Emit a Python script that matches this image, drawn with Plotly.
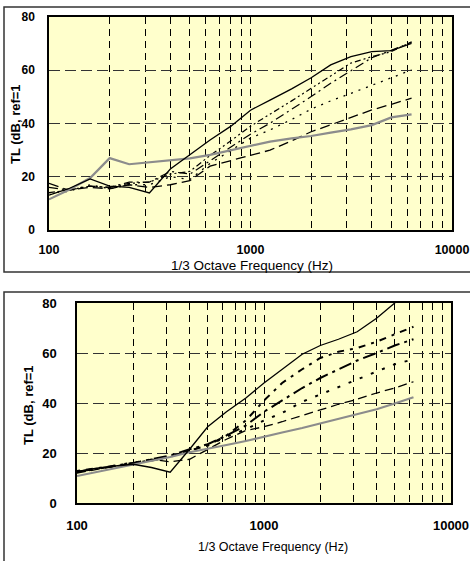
import plotly.graph_objects as go

# 1/3 octave band centre frequencies (Hz)
FREQ = [100, 125, 160, 200, 250, 315, 400, 500, 630, 800, 1000,
        1250, 1600, 2000, 2500, 3150, 4000, 5000, 6300]

# ---- top chart series (TL, dB) ----
TOP_SOLID = [13.1, 15.5, 19.2, 16.5, 16.0, 13.9, 22.9, 28.2, 33.8, 39.0, 45.0,
             48.8, 53.0, 57.2, 62.0, 65.1, 67.0, 67.4, 70.1]
TOP_GRAY = [11.5, 15.0, 19.5, 27.0, 24.7, 25.4, 26.3, 26.9, 28.2, 30.0, 31.7,
            33.2, 34.4, 35.3, 36.6, 37.8, 39.4, 42.3, 43.4]
TOP_DASHDOTDOT = [14.0, 15.0, 16.5, 16.0, 17.5, 18.0, 21.0, 22.0, 28.0, 33.5, 39.0,
                  43.4, 48.5, 53.2, 58.0, 62.7, 65.1, 67.0, 70.7]
TOP_DASHDOT = [16.0, 15.0, 16.5, 16.0, 18.0, 18.0, 22.0, 21.0, 26.0, 31.0, 36.0,
               40.1, 45.3, 50.1, 55.1, 59.8, 64.7, 67.5, 70.5]
TOP_DOT = [14.0, 14.5, 17.0, 15.5, 17.0, 17.0, 20.0, 19.0, 25.0, 30.0, 34.5,
           37.6, 41.5, 45.4, 48.5, 51.3, 54.3, 57.2, 60.1]
TOP_LONGDASH = [17.5, 15.0, 16.0, 15.5, 17.0, 16.0, 17.0, 18.5, 24.0, 26.0, 28.0,
                30.0, 33.5, 36.9, 39.5, 42.2, 45.1, 47.2, 49.5]

# ---- bottom chart series (TL, dB) ----
BOT_SOLID = [12.5, 13.8, 14.8, 15.5, 14.2, 12.3, 21.5, 30.5, 36.5, 42.0, 48.0,
             53.3, 59.5, 63.0, 65.5, 68.5, 73.9, 80.0, 87.0]
BOT_GRAY = [10.8, 12.3, 13.9, 15.3, 16.8, 18.4, 20.3, 21.6, 23.2, 24.8, 26.6,
            28.2, 30.0, 31.8, 33.6, 35.5, 37.5, 39.8, 42.3]
BOT_A = [12.8, 13.8, 15.0, 16.0, 17.0, 18.5, 21.0, 23.0, 27.0, 33.0, 41.0,
         48.0, 53.5, 58.0, 60.5, 62.0, 64.5, 67.5, 70.5]
BOT_B = [12.5, 13.5, 14.8, 16.0, 17.5, 19.0, 21.5, 23.5, 27.0, 31.0, 36.5,
         41.0, 46.0, 50.0, 53.5, 57.0, 60.0, 63.0, 65.5]
BOT_C = [12.3, 13.5, 15.0, 16.2, 17.0, 18.5, 21.0, 23.0, 26.5, 29.5, 33.0,
         36.0, 40.5, 43.5, 46.5, 49.5, 52.5, 55.5, 57.5]
BOT_D = [12.0, 13.3, 14.5, 16.0, 17.5, 16.5, 17.5, 21.5, 25.5, 29.0, 30.5,
         32.5, 35.0, 37.0, 39.5, 41.5, 44.0, 46.0, 48.5]

# axis ticks
X_TICKVALS = [m * d for d in (100, 1000) for m in range(1, 10)] + [10000]
X_TICKTEXT = [str(v) if v in (100, 1000, 10000) else "" for v in X_TICKVALS]
Y_TICKVALS = [0, 20, 40, 60, 80]
Y_TICKTEXT = ["0", "20", "40", "60", "80"]

XTITLE = "1/3 Octave Frequency (Hz)"
YTITLE = "TL (dB, ref=1"

W, H = 470, 561
FONT = "Liberation Sans, Arial, sans-serif"

fig = go.Figure()

def add(x, y, xa, ya, color, width, dash):
    fig.add_trace(go.Scatter(x=x, y=y, xaxis=xa, yaxis=ya, mode="lines",
                             line=dict(color=color, width=width, dash=dash),
                             showlegend=False, hoverinfo="skip"))

# top
add(FREQ, TOP_LONGDASH, "x", "y", "black", 1.3, "10px,5px")
add(FREQ, TOP_DOT, "x", "y", "black", 1.3, "2px,6px")
add(FREQ, TOP_DASHDOT, "x", "y", "black", 1.2, "9px,4px,2px,4px")
add(FREQ, TOP_DASHDOTDOT, "x", "y", "black", 1.2, "6px,3px,2px,3px,2px,3px")
add(FREQ, TOP_GRAY, "x", "y", "#8c8c8c", 2.2, "solid")
add(FREQ, TOP_SOLID, "x", "y", "black", 1.3, "solid")

# bottom
add(FREQ, BOT_D, "x2", "y2", "black", 1.3, "9px,5px")
add(FREQ, BOT_C, "x2", "y2", "black", 2.0, "3px,9px")
add(FREQ, BOT_B, "x2", "y2", "black", 2.0, "13px,5px,3px,5px")
add(FREQ, BOT_A, "x2", "y2", "black", 2.0, "3px,6px,7px,6px")
add(FREQ, BOT_GRAY, "x2", "y2", "#8c8c8c", 2.2, "solid")
add(FREQ, BOT_SOLID, "x2", "y2", "black", 1.3, "solid")

def xaxis(domain, anchor, size, standoff):
    return dict(domain=domain, anchor=anchor, type="log", range=[2, 4],
                automargin=False, ticklabeloverflow="allow",
                tickmode="array", tickvals=X_TICKVALS, ticktext=X_TICKTEXT,
                showgrid=True, gridcolor="black", gridwidth=1, griddash="7px,5px",
                showline=True, linecolor="black", linewidth=1.5, mirror=True,
                ticks="", ticklabelstandoff=standoff, zeroline=False,
                tickfont=dict(family=FONT, size=size, color="black", weight="bold"))

def yaxis(domain, anchor, size, standoff):
    return dict(domain=domain, anchor=anchor, range=[0, 80],
                automargin=False,
                tickmode="array", tickvals=Y_TICKVALS, ticktext=Y_TICKTEXT,
                showgrid=True, gridcolor="#333333", gridwidth=1, griddash="11px,5px",
                showline=True, linecolor="black", linewidth=1.5, mirror=True,
                ticks="", ticklabelstandoff=standoff, zeroline=False,
                tickfont=dict(family=FONT, size=size, color="black", weight="bold"))

def px(v):
    return v / W

def py(v):
    return 1 - v / H

fig.update_layout(
    width=W, height=H,
    margin=dict(l=0, r=0, t=0, b=0, autoexpand=False),
    paper_bgcolor="white", plot_bgcolor="#FFFFCC",
    xaxis=xaxis([px(49), px(452)], "y", 12.5, 7),
    yaxis=yaxis([py(230), py(17)], "x", 12, 10),
    xaxis2=xaxis([px(77), px(451)], "y2", 13, 10),
    yaxis2=yaxis([py(503), py(303)], "x2", 13, 16),
    shapes=[
        dict(type="rect", xref="paper", yref="paper", x0=px(4), x1=px(478),
             y0=py(272), y1=py(7), line=dict(color="#333333", width=1.5)),
        dict(type="rect", xref="paper", yref="paper", x0=px(4), x1=px(478),
             y0=py(570), y1=py(292), line=dict(color="#333333", width=1.5)),
    ],
    annotations=[
        dict(text=XTITLE, xref="paper", yref="paper", x=px(252), y=py(265),
             showarrow=False, xanchor="center", yanchor="middle",
             font=dict(family=FONT, size=13.5, color="black")),
        dict(text=YTITLE, xref="paper", yref="paper", x=px(15), y=py(124),
             showarrow=False, textangle=-90, xanchor="center", yanchor="middle",
             font=dict(family=FONT, size=13, color="black", weight="bold")),
        dict(text=XTITLE, xref="paper", yref="paper", x=px(273), y=py(547),
             showarrow=False, xanchor="center", yanchor="middle",
             font=dict(family=FONT, size=12.5, color="black")),
        dict(text=YTITLE, xref="paper", yref="paper", x=px(28), y=py(405),
             showarrow=False, textangle=-90, xanchor="center", yanchor="middle",
             font=dict(family=FONT, size=13, color="black", weight="bold")),
    ],
)

fig.write_html(
    "out.html",
    config={"displayModeBar": False},
    post_script="document.body.style.margin='0';document.body.style.padding='0';",
)
